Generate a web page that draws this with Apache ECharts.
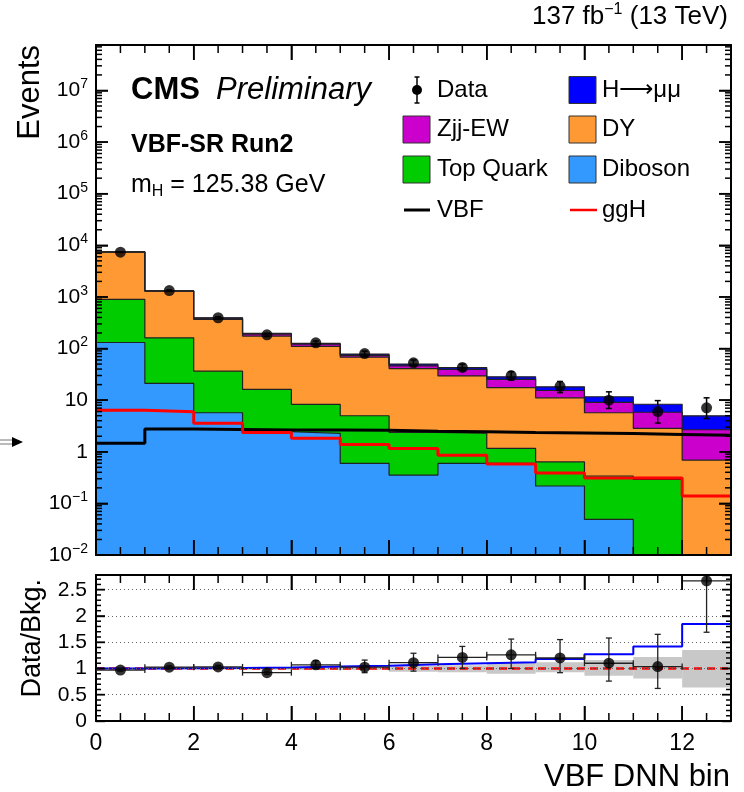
<!DOCTYPE html>
<html>
<head>
<meta charset="utf-8">
<script src="https://cdn.jsdelivr.net/npm/echarts@6/dist/echarts.min.js"></script>
<style>html,body{margin:0;padding:0;background:#fff}#chart{width:744px;height:792px}</style>
</head>
<body>
<div id="chart"></div>
<script>
// VBF DNN bins (left edges), 13 bins of width 1
var binLo = [0, 1, 2, 3, 4, 5, 6, 7, 8, 9, 10, 11, 12];

// stacked backgrounds + signal (events per bin)
var diboson = [131, 21.1, 5.7, 2.44, 2.27, 0.595, 0.354, 0.595, 0.595, 0.217, 0.049, 0, 0];
var topQuark = [762, 140, 30.8, 13.7, 6.0, 4.39, 2.02, 1.7, 0.565, 0.42, 0.29, 0.29, 0];
var dy = [6507, 1129, 329.5, 157.9, 101.7, 63.0, 38.6, 27.2, 16.4, 10.46, 5.36, 2.54, 0.69];
var zjjEW = [40, 15, 22, 17, 11, 6, 5.3, 10, 7.8, 4.3, 3.34, 3.0, 1.98];
var hmumu = [7.9, 8.7, 6.3, 5.0, 4.5, 4.0, 3.7, 3.3, 2.9, 2.7, 2.6, 2.5, 2.3];
var vbf = [1.46, 2.75, 2.7, 2.63, 2.63, 2.6, 2.5, 2.45, 2.35, 2.3, 2.25, 2.17, 2.1];
var ggH = [6.4, 5.95, 3.55, 2.37, 1.82, 1.39, 1.16, 0.86, 0.58, 0.39, 0.31, 0.31, 0.139];

// data with error bars
var data = [7350, 1330, 395, 184, 129, 80, 53, 43, 30, 18.5, 10, 6, 7.1];
var dataLo = [7270, 1294, 375, 171, 118, 71, 46, 37, 24.5, 14, 6.9, 3.6, 4.4];
var dataHi = [7430, 1366, 415, 197, 140, 89, 60, 50, 35.5, 23, 14.5, 9.8, 11.1];

// ratio panel
var ratio = [0.97, 1.025, 1.03, 0.92, 1.07, 1.025, 1.11, 1.21, 1.26, 1.2, 1.10, 1.036, 2.67];
var ratioLo = [0.95, 1.0, 1.0, 0.89, 1.0, 0.92, 0.95, 1.0, 1.0, 0.92, 0.76, 0.62, 1.69];
var ratioHi = [0.99, 1.05, 1.06, 0.95, 1.15, 1.16, 1.29, 1.42, 1.56, 1.55, 1.58, 1.65, 3.6];
var sigRatio = [1.0, 1.006, 1.01, 1.02, 1.04, 1.05, 1.08, 1.10, 1.12, 1.18, 1.27, 1.42, 1.845];
var bandUp = [1.015, 1.02, 1.02, 1.025, 1.03, 1.03, 1.05, 1.06, 1.12, 1.12, 1.16, 1.22, 1.35];
var bandDn = [0.985, 0.98, 0.98, 0.975, 0.97, 0.97, 0.94, 0.93, 0.9, 0.93, 0.86, 0.81, 0.64];

// axis ranges
var X_MAX = 13, LOG_MIN = 0.01, LOG_MAX = 7.6e7, R_MAX = 2.78;

var FONT = '"Liberation Sans", Arial, sans-serif';
var chart = echarts.init(document.getElementById('chart'));

// step line points from per-bin values
function steps(vals) {
    var out = [];
    for (var i = 0; i < vals.length; i++) out.push([binLo[i], Math.max(vals[i], 1e-5)]);
    out.push([binLo[vals.length - 1] + 1, Math.max(vals[vals.length - 1], 1e-5)]);
    return out;
}

// cumulative stack (bottom to top)
var stackDefs = [
    ['Diboson', diboson, '#3399ff'],
    ['Top Quark', topQuark, '#00cc00'],
    ['DY', dy, '#ff9933'],
    ['Zjj-EW', zjjEW, '#cc00cc'],
    ['H\u2192\u03bc\u03bc', hmumu, '#0000ff']
];
var cum = [], run = binLo.map(function() { return 0; });
stackDefs.forEach(function(d) {
    run = run.map(function(v, i) { return v + d[1][i]; });
    cum.push(run.slice());
});

var series = [];
// top of the stack first so lower fills sit over it
for (var k = stackDefs.length - 1; k >= 0; k--) {
    series.push({
        name: stackDefs[k][0], type: 'line', xAxisIndex: 0, yAxisIndex: 0,
        step: 'end', showSymbol: false, silent: true,
        data: steps(cum[k]),
        lineStyle: { color: '#222', width: 1.2 },
        areaStyle: { color: stackDefs[k][2], opacity: 1, origin: 'start' },
        z: 2
    });
}
series.push({
    name: 'VBF', type: 'line', xAxisIndex: 0, yAxisIndex: 0, step: 'end', showSymbol: false, silent: true,
    data: steps(vbf), lineStyle: { color: '#000', width: 3 }, z: 4
});
series.push({
    name: 'ggH', type: 'line', xAxisIndex: 0, yAxisIndex: 0, step: 'end', showSymbol: false, silent: true,
    data: steps(ggH), lineStyle: { color: '#ff0000', width: 3 }, z: 4
});

// data error bars + points (main)
series.push({
    type: 'custom', xAxisIndex: 0, yAxisIndex: 0, silent: true, z: 12, clip: true,
    data: binLo.map(function(x, i) { return [x + 0.5, dataLo[i], dataHi[i]]; }),
    renderItem: function(params, api) {
        var a = api.coord([api.value(0), api.value(1)]);
        var b = api.coord([api.value(0), api.value(2)]);
        var st = { stroke: '#000', lineWidth: 1.5 };
        return { type: 'group', children: [
            { type: 'line', shape: { x1: a[0], y1: a[1], x2: b[0], y2: b[1] }, style: st },
            { type: 'line', shape: { x1: a[0] - 3, y1: a[1], x2: a[0] + 3, y2: a[1] }, style: st },
            { type: 'line', shape: { x1: b[0] - 3, y1: b[1], x2: b[0] + 3, y2: b[1] }, style: st }
        ] };
    }
});
series.push({
    name: 'Data', type: 'scatter', xAxisIndex: 0, yAxisIndex: 0, symbol: 'circle', symbolSize: 11,
    itemStyle: { color: '#000' }, z: 13, silent: true,
    data: binLo.map(function(x, i) { return [x + 0.5, data[i]]; })
});

// ratio panel
series.push({
    type: 'custom', xAxisIndex: 2, yAxisIndex: 2, silent: true, z: 2, clip: true,
    data: binLo.map(function(x, i) { return [x, x + 1, bandDn[i], bandUp[i]]; }),
    renderItem: function(params, api) {
        var a = api.coord([api.value(0), api.value(3)]);
        var b = api.coord([api.value(1), api.value(2)]);
        return { type: 'rect', shape: { x: a[0], y: a[1], width: b[0] - a[0], height: b[1] - a[1] },
            style: { fill: '#c8c8c8' } };
    }
});
series.push({
    type: 'line', xAxisIndex: 2, yAxisIndex: 2, showSymbol: false, silent: true, z: 4,
    data: [[0, 1], [X_MAX, 1]],
    lineStyle: { color: '#ff0000', width: 2.5, type: [8, 5] }
});
series.push({
    type: 'line', xAxisIndex: 2, yAxisIndex: 2, step: 'end', showSymbol: false, silent: true, z: 5,
    data: steps(sigRatio), lineStyle: { color: '#0000ff', width: 2 }
});
series.push({
    type: 'custom', xAxisIndex: 2, yAxisIndex: 2, silent: true, z: 12, clip: true,
    data: binLo.map(function(x, i) { return [x + 0.5, ratio[i], ratioLo[i], ratioHi[i]]; }),
    renderItem: function(params, api) {
        var x = api.value(0), y = api.value(1);
        var c = api.coord([x, y]);
        var lo = api.coord([x, api.value(2)]), hi = api.coord([x, api.value(3)]);
        var l = api.coord([x - 0.5, y]), r = api.coord([x + 0.5, y]);
        var st = { stroke: '#222', lineWidth: 1.3 };
        return { type: 'group', children: [
            { type: 'line', shape: { x1: lo[0], y1: lo[1], x2: hi[0], y2: hi[1] }, style: st },
            { type: 'line', shape: { x1: lo[0] - 3, y1: lo[1], x2: lo[0] + 3, y2: lo[1] }, style: st },
            { type: 'line', shape: { x1: hi[0] - 3, y1: hi[1], x2: hi[0] + 3, y2: hi[1] }, style: st },
            { type: 'line', shape: { x1: l[0], y1: c[1], x2: r[0], y2: c[1] }, style: st },
            { type: 'line', shape: { x1: l[0], y1: c[1] - 3, x2: l[0], y2: c[1] + 3 }, style: st },
            { type: 'line', shape: { x1: r[0], y1: c[1] - 3, x2: r[0], y2: c[1] + 3 }, style: st }
        ] };
    }
});
series.push({
    type: 'scatter', xAxisIndex: 2, yAxisIndex: 2, symbol: 'circle', symbolSize: 11, silent: true,
    itemStyle: { color: '#000' }, z: 13,
    data: binLo.map(function(x, i) { return [x + 0.5, ratio[i]]; })
});

function xAx(grid, pos, labels) {
    return {
        type: 'value', gridIndex: grid, position: pos, min: 0, max: X_MAX, interval: 2, z: 10,
        axisLine: { show: true, onZero: false, lineStyle: { color: '#000', width: 2 } },
        axisTick: { show: true, inside: true, length: 15, lineStyle: { color: '#000', width: 1.5 } },
        axisLabel: { show: labels, fontSize: 23, color: '#000', fontFamily: FONT, margin: 11, showMaxLabel: false },
        splitLine: { show: false }
    };
}
function ratioY(pos, labels) {
    return {
        type: 'value', gridIndex: 1, position: pos, min: 0, max: R_MAX, interval: 0.5, z: 10,
        axisLine: { show: true, onZero: false, lineStyle: { color: '#000', width: 2 } },
        axisTick: { show: true, inside: true, length: 9, lineStyle: { color: '#000', width: 1.4 } },
        axisLabel: { show: labels, fontSize: 21, color: '#000', fontFamily: FONT, margin: 9, showMaxLabel: false },
        splitLine: { show: labels, lineStyle: { color: '#666', width: 1, type: [1, 3] } }
    };
}
function logLabel(v) {
    var e = Math.log10(v), n = Math.round(e);
    if (Math.abs(e - n) > 1e-6) return '';
    if (n === 0) return '{b|1}';
    if (n === 1) return '{b|10}';
    return '{b|10}{e|' + (n < 0 ? '\u2212' + (-n) : n) + '}';
}
function logY(pos, labels) {
    return {
        type: 'log', gridIndex: 0, position: pos, logBase: 10, min: LOG_MIN, max: LOG_MAX, splitNumber: 10, z: 10,
        axisLine: { show: true, onZero: false, lineStyle: { color: '#000', width: 2 } },
        axisTick: { show: true, inside: true, length: 12, lineStyle: { color: '#000', width: 1.5 } },
        axisLabel: {
            show: labels, margin: 8, showMaxLabel: false, formatter: logLabel,
            rich: {
                b: { fontSize: 21, fontFamily: FONT, color: '#000', lineHeight: 26 },
                e: { fontSize: 14, fontFamily: FONT, color: '#000', lineHeight: 13, verticalAlign: 'top' }
            }
        },
        splitLine: { show: false }
    };
}

// legend + labels
var legendRows = [90, 129.5, 169.5, 210];
var graphic = [];
function txt(x, y, text, size, opts) {
    opts = opts || {};
    var s = { text: text, x: 0, y: 0, fill: '#000', font: (opts.font || '') + ' ' + size + 'px ' + FONT,
        align: opts.align || 'left', verticalAlign: 'middle' };
    if (opts.rich) s.rich = opts.rich;
    graphic.push({ type: 'text', x: x, y: y, rotation: opts.rot || 0, style: s, z: 100 });
}
function box(x, y, color) {
    graphic.push({ type: 'rect', x: x, y: y - 13.5, shape: { x: 0, y: 0, width: 27, height: 27 },
        style: { fill: color, stroke: '#333', lineWidth: 1 }, z: 100 });
}
graphic.push({ type: 'group', x: 417, y: 90, z: 100, children: [
    { type: 'line', shape: { x1: 0, y1: -13, x2: 0, y2: 13 }, style: { stroke: '#000', lineWidth: 1.5 } },
    { type: 'line', shape: { x1: -2.5, y1: -13, x2: 2.5, y2: -13 }, style: { stroke: '#000', lineWidth: 1.5 } },
    { type: 'line', shape: { x1: -2.5, y1: 13, x2: 2.5, y2: 13 }, style: { stroke: '#000', lineWidth: 1.5 } },
    { type: 'circle', shape: { cx: 0, cy: 0, r: 5 }, style: { fill: '#000' } }
] });
txt(437, legendRows[0], 'Data', 24);
box(569, legendRows[0], '#0000ff'); txt(602, legendRows[0], 'H\u27f6\u03bc\u03bc', 24);
box(403, legendRows[1], '#cc00cc'); txt(437, legendRows[1], 'Zjj-EW', 24);
box(569, legendRows[1], '#ff9933'); txt(602, legendRows[1], 'DY', 24);
box(403, legendRows[2], '#00cc00'); txt(437, legendRows[2], 'Top Quark', 24);
box(569, legendRows[2], '#3399ff'); txt(602, legendRows[2], 'Diboson', 24);
graphic.push({ type: 'line', shape: { x1: 404, y1: legendRows[3], x2: 430, y2: legendRows[3] },
    style: { stroke: '#000', lineWidth: 3 }, z: 100 });
txt(437, legendRows[3], 'VBF', 24);
graphic.push({ type: 'line', shape: { x1: 570, y1: legendRows[3], x2: 597, y2: legendRows[3] },
    style: { stroke: '#ff0000', lineWidth: 2.5 }, z: 100 });
txt(602, legendRows[3], 'ggH', 24);

txt(131, 90, 'CMS', 31, { font: 'bold' });
txt(216, 90, 'Preliminary', 31, { font: 'italic' });
txt(131, 145, 'VBF-SR Run2', 25, { font: 'bold' });
txt(131, 185, '{a|m}{s|H}{a| = 125.38 GeV}', 25, { rich: {
    a: { fontSize: 25, fontFamily: FONT, lineHeight: 30 },
    s: { fontSize: 16, fontFamily: FONT, lineHeight: 14, verticalAlign: 'bottom' } } });
txt(728, 17, '{a|137 fb}{s|\u22121}{a| (13 TeV)}', 26, { align: 'right', rich: {
    a: { fontSize: 26, fontFamily: FONT, lineHeight: 30 },
    s: { fontSize: 16, fontFamily: FONT, lineHeight: 14, verticalAlign: 'top' } } });
txt(30, 45, 'Events', 31, { align: 'right', rot: Math.PI / 2 });
txt(33, 579, 'Data/Bkg.', 27, { align: 'right', rot: Math.PI / 2 });
txt(730, 777, 'VBF DNN bin', 31, { align: 'right' });
// arrow at left edge
graphic.push({ type: 'group', x: 0, y: 442, z: 100, children: [
    { type: 'line', shape: { x1: 0, y1: -2, x2: 14, y2: -2 }, style: { stroke: '#777', lineWidth: 1 } },
    { type: 'line', shape: { x1: 0, y1: 2, x2: 14, y2: 2 }, style: { stroke: '#777', lineWidth: 1 } },
    { type: 'polygon', shape: { points: [[12, -5], [23, 0], [12, 5]] }, style: { fill: '#000' } }
] });

var option = {
    animation: false,
    backgroundColor: '#fff',
    grid: [
        { left: 96, right: 13, top: 45, height: 510 },
        { left: 96, right: 13, top: 575, height: 146 }
    ],
    xAxis: [
        xAx(0, 'bottom', false),
        xAx(0, 'top', false),
        xAx(1, 'bottom', true),
        xAx(1, 'top', false)
    ],
    yAxis: [
        logY('left', true),
        logY('right', false),
        ratioY('left', true),
        ratioY('right', false)
    ],
    series: series,
    graphic: graphic
};
chart.setOption(option);

// ROOT-style inward minor/major ticks on all four sides, placed through the axes' own scales
// [x value, y value, length, 0 = x tick / 1 = y tick]
var mainTicks = [], ratioTicks = [];
for (var i = 1; i < 26; i++) {
    mainTicks.push([i / 2, 0, i % 4 === 0 ? 15 : 8, 0]);
    ratioTicks.push([i / 2, 0, i % 4 === 0 ? 15 : 8, 0]);
}
for (var e = -2; e <= 7; e++) {
    if (e > -2) mainTicks.push([0, Math.pow(10, e), 12, 1]);
    for (var m = 2; m <= 9; m++) {
        if (m * Math.pow(10, e) < LOG_MAX) mainTicks.push([0, m * Math.pow(10, e), 6, 1]);
    }
}
for (var j = 1; j <= 27; j++) ratioTicks.push([0, j / 10, j % 5 === 0 ? 9 : 5, 1]);

var tickEls = [];
function tickLine(x1, y1, x2, y2) {
    tickEls.push({ type: 'line', silent: true, z: 100, shape: { x1: x1, y1: y1, x2: x2, y2: y2 },
        style: { stroke: '#000', lineWidth: 1.5 } });
}
function addTicks(xi, yi, ticks, yMin, yMax) {
    var x0 = chart.convertToPixel({ xAxisIndex: xi }, 0);
    var x1 = chart.convertToPixel({ xAxisIndex: xi }, X_MAX);
    var yb = chart.convertToPixel({ yAxisIndex: yi }, yMin);
    var yt = chart.convertToPixel({ yAxisIndex: yi }, yMax);
    ticks.forEach(function(t) {
        if (t[3] === 0) {
            var px = chart.convertToPixel({ xAxisIndex: xi }, t[0]);
            tickLine(px, yb, px, yb - t[2]);
            tickLine(px, yt, px, yt + t[2]);
        } else {
            var py = chart.convertToPixel({ yAxisIndex: yi }, t[1]);
            tickLine(x0, py, x0 + t[2], py);
            tickLine(x1 - t[2], py, x1, py);
        }
    });
}
try {
    addTicks(0, 0, mainTicks, LOG_MIN, LOG_MAX);
    addTicks(2, 2, ratioTicks, 0, R_MAX);
    chart.setOption({ graphic: graphic.concat(tickEls) });
} catch (err) {
    // keep the chart without the extra ticks
}
</script>
</body>
</html>
